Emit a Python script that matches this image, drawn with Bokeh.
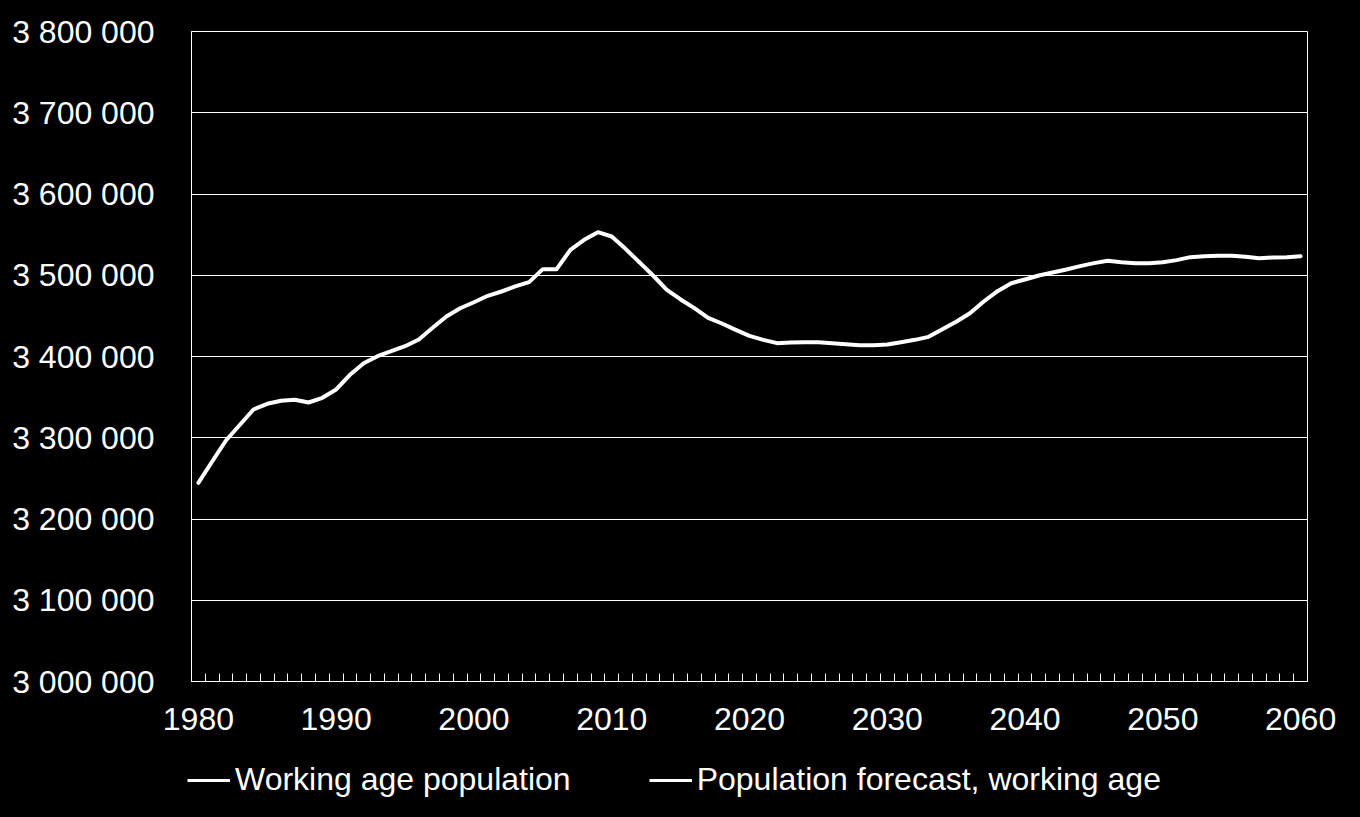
from bokeh.plotting import figure
from bokeh.models import Range1d, FixedTicker, Legend, LegendItem
from bokeh.embed import file_html
from bokeh.resources import INLINE

years_hist = list(range(1980, 2013))
pop_hist = [3244500, 3270800, 3296600, 3315700, 3334800, 3341800, 3345500, 3346700, 3343400, 3349200,
            3359400, 3377500, 3391800, 3400400, 3406500, 3412700, 3420900, 3435300, 3449200, 3459400,
            3466800, 3474700, 3480000, 3486200, 3491500, 3507500, 3507500, 3531300, 3543600, 3553000,
            3547700, 3532500, 3516100]
years_fc = list(range(2012, 2061))
pop_fc = [3516100, 3499700, 3482100, 3470200, 3459500, 3447600, 3440600, 3432800, 3425400, 3420500,
          3416400, 3417200, 3417600, 3417600, 3416400, 3415100, 3413900, 3413900, 3414800, 3417600,
          3420500, 3424200, 3433600, 3442700, 3453300, 3467700, 3480400, 3490200, 3494800, 3499700,
          3503400, 3507100, 3511200, 3514900, 3517800, 3516100, 3514900, 3514900, 3516100, 3518600,
          3522300, 3523500, 3524000, 3524000, 3522700, 3521000, 3521800, 3522300, 3523500]
series_names = ["Working age population", "Population forecast, working age"]
y_ticks = [3000000, 3100000, 3200000, 3300000, 3400000, 3500000, 3600000, 3700000, 3800000]
x_ticks = [1980, 1990, 2000, 2010, 2020, 2030, 2040, 2050, 2060]

FONT = "Liberation Sans"

p = figure(width=1360, height=745, output_backend="svg", toolbar_location=None,
           x_range=Range1d(1979.5, 2060.5), y_range=Range1d(3000000, 3800000),
           min_border_left=191, min_border_right=53, min_border_top=31, min_border_bottom=64)
p.background_fill_color = "black"
p.border_fill_color = "black"
p.outline_line_color = "white"
p.outline_line_width = 1

r1 = p.line(years_hist, pop_hist, line_color="white", line_width=4, line_join="round", line_cap="round")
r2 = p.line(years_fc, pop_fc, line_color="white", line_width=4, line_join="round", line_cap="round")

# axes
p.xaxis.ticker = FixedTicker(ticks=x_ticks, minor_ticks=[y - 0.5 for y in range(1980, 2062)])
p.xaxis.major_tick_line_color = None
p.xaxis.minor_tick_line_color = "white"
p.xaxis.minor_tick_in = 8
p.xaxis.minor_tick_out = 0
p.xaxis.axis_line_color = "white"
p.xaxis.major_label_text_color = "white"
p.xaxis.major_label_text_font = FONT
p.xaxis.major_label_text_font_size = "32px"
p.xaxis.major_label_standoff = 20

p.yaxis.ticker = FixedTicker(ticks=y_ticks)
p.yaxis.major_label_overrides = {t: f"{t:,}".replace(",", " ") for t in y_ticks}
p.yaxis.major_tick_line_color = None
p.yaxis.minor_tick_line_color = None
p.yaxis.axis_line_color = "white"
p.yaxis.major_label_text_color = "white"
p.yaxis.major_label_text_font = FONT
p.yaxis.major_label_text_font_size = "32px"
p.yaxis.major_label_standoff = 31

p.xgrid.grid_line_color = None
p.ygrid.grid_line_color = "white"
p.ygrid.grid_line_width = 1

# legend strip below the chart (separate root, no alignment)
pl = figure(width=1360, height=72, output_backend="svg", toolbar_location=None,
            x_range=Range1d(0, 1), y_range=Range1d(0, 1), x_axis_type=None, y_axis_type=None,
            min_border_left=0, min_border_right=0, min_border_top=0, min_border_bottom=0)
pl.background_fill_color = "black"
pl.border_fill_color = "black"
pl.outline_line_color = None
pl.xgrid.grid_line_color = None
pl.ygrid.grid_line_color = None
# legend proxies (kept outside the visible range of this strip)
l1 = pl.line([-10, -9], [-10, -9], line_color="white", line_width=3)
l2 = pl.line([-10, -9], [-10, -9], line_color="white", line_width=3)

legend = Legend(items=[LegendItem(label=series_names[0], renderers=[l1]),
                       LegendItem(label=series_names[1], renderers=[l2])],
                orientation="horizontal", location=(187, 19),
                label_text_color="white", label_text_font=FONT, label_text_font_size="32px",
                background_fill_alpha=0, border_line_color=None,
                glyph_width=43, spacing=78, label_standoff=5, margin=0, padding=0)
pl.add_layout(legend, "center")

html = file_html([p, pl], INLINE)
html = html.replace("</head>", "<style>html, body { background: #000; }</style></head>", 1)
open("out.html", "w").write(html)
